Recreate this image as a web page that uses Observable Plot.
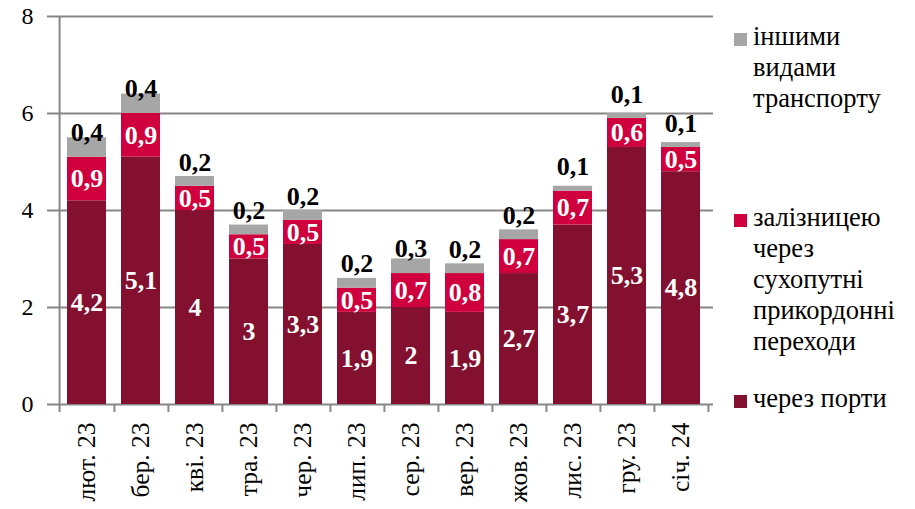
<!DOCTYPE html>
<html>
<head>
<meta charset="utf-8">
<script src="https://cdn.jsdelivr.net/npm/d3@7"></script>
<script src="https://cdn.jsdelivr.net/npm/@observablehq/plot@0.6"></script>
<style>
  body { margin: 0; background: #fff; }
  #wrap { position: relative; width: 915px; height: 509px; font-family: 'Liberation Serif', 'DejaVu Serif', serif; }
  .leg { position: absolute; left: 753px; font-size: 26.5px; line-height: 31px; color: #000; font-family: 'Liberation Serif', 'DejaVu Serif', serif; white-space: nowrap; }
  .sw { position: absolute; left: 734px; width: 13px; height: 13px; }
  svg text { font-family: 'Liberation Serif', 'DejaVu Serif', serif; }
</style>
</head>
<body>
<div id="wrap"></div>
<script>
const months = ["лют. 23", "бер. 23", "кві. 23", "тра. 23", "чер. 23", "лип. 23", "сер. 23", "вер. 23", "жов. 23", "лис. 23", "гру. 23", "січ. 24"];
const ports = [4.2, 5.1, 4, 3, 3.3, 1.9, 2, 1.9, 2.7, 3.7, 5.3, 4.8];
const rail = [0.9, 0.9, 0.5, 0.5, 0.5, 0.5, 0.7, 0.8, 0.7, 0.7, 0.6, 0.5];
const other = [0.4, 0.4, 0.2, 0.2, 0.2, 0.2, 0.3, 0.2, 0.2, 0.1, 0.1, 0.1];
const seriesNames = ["через порти", "залізницею через сухопутні прикордонні переходи", "іншими видами транспорту"];
const seriesColors = ["#84102F", "#D0003E", "#A6A6A6"];
const yTicks = [0, 2, 4, 6, 8];

const fmt = v => String(v).replace(".", ",");
const W = 915, H = 509, ML = 55, MR = 202, MT = 16, MB = 105;
const step = (W - ML - MR) / months.length;
const grid = "#878787";
const font = "'Liberation Serif', 'DejaVu Serif', serif";

const rows = [];
months.forEach((m, i) => {
  rows.push({month: m, series: seriesNames[0], value: ports[i]});
  rows.push({month: m, series: seriesNames[1], value: rail[i]});
  rows.push({month: m, series: seriesNames[2], value: other[i]});
});
const portLabels = months.map((m, i) => ({month: m, y: ports[i] / 2, t: fmt(ports[i])}));
const railLabels = months.map((m, i) => ({month: m, y: ports[i] + rail[i] / 2, t: fmt(rail[i])}));
const otherLabels = months.map((m, i) => ({month: m, y: ports[i] + rail[i] + other[i], v: other[i], t: fmt(other[i])}));

const chart = Plot.plot({
  width: W, height: H,
  marginLeft: ML, marginRight: MR, marginTop: MT, marginBottom: MB,
  style: {fontFamily: font, background: "white", overflow: "visible"},
  x: {domain: months, paddingInner: 0.27, paddingOuter: 0.135, label: null},
  y: {domain: [0, 8], label: null},
  color: {domain: seriesNames, range: seriesColors},
  marks: [
    Plot.gridY(yTicks, {stroke: grid, strokeWidth: 2, strokeOpacity: 1}),
    Plot.barY(rows, {x: "month", y: "value", fill: "series"}),
    Plot.ruleX([months[0]], {x: d => d, dx: -step / 2, stroke: grid, strokeWidth: 2, insetBottom: -8}),
    Plot.ruleX(months, {x: d => d, dx: step / 2, stroke: grid, strokeWidth: 2, insetTop: H - MT - MB, insetBottom: -8}),
    Plot.axisY(yTicks, {tickSize: 8, tickPadding: 14, fontSize: 24, fontFamily: font, stroke: grid, strokeWidth: 2, fill: "black", label: null}),
    Plot.axisX({tickSize: 0, tickPadding: 18, tickRotate: -90, fontSize: 25.5, fontFamily: font, fill: "black", label: null}),
    Plot.text(portLabels, {x: "month", y: "y", text: "t", fill: "white", fontWeight: "bold", fontSize: 26, fontFamily: font}),
    Plot.text(railLabels, {x: "month", y: "y", text: "t", fill: "white", fontWeight: "bold", fontSize: 26, fontFamily: font}),
    Plot.text(otherLabels, {x: "month", y: "y", text: "t", fill: "black", fontWeight: "bold", fontSize: 26, fontFamily: font, lineAnchor: "bottom", dy: 3})
  ]
});
const wrap = document.getElementById("wrap");
wrap.appendChild(chart);

// nudge the top (grey) labels upward for thin segments, as in the reference
d3.select(chart).selectAll("g[aria-label='text']").filter((d, i, n) => i === n.length - 1)
  .selectAll("text").each(function(_, i) {
    const v = otherLabels[i].v;
    const off = Math.round((0.4 - v) * 45);
    const cur = d3.select(this).attr("transform") || "";
    d3.select(this).attr("transform", cur + ` translate(0,${-off})`);
  });

const legendItems = [
  {lines: ["іншими", "видами", "транспорту"], color: seriesColors[2], base: 46},
  {lines: ["залізницею", "через", "сухопутні", "прикордонні", "переходи"], color: seriesColors[1], base: 227},
  {lines: ["через порти"], color: seriesColors[0], base: 408}
];
legendItems.forEach(it => {
  const sw = document.createElement("div");
  sw.className = "sw";
  sw.style.background = it.color;
  sw.style.top = (it.base - 13) + "px";
  wrap.appendChild(sw);
  const tx = document.createElement("div");
  tx.className = "leg";
  tx.style.top = (it.base - 25) + "px";
  tx.innerHTML = it.lines.join("<br>");
  wrap.appendChild(tx);
});
</script>
</body>
</html>
